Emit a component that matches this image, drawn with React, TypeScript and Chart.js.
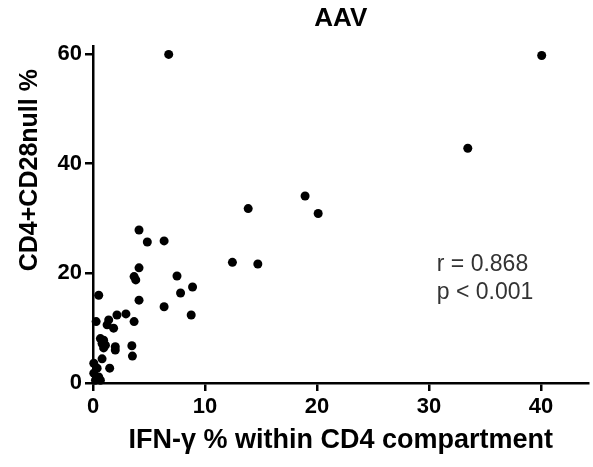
import React, { useEffect, useRef } from "react";
import { Chart, registerables } from "chart.js";

Chart.register(...registerables);

const chartTitle = "AAV";
const xAxisTitle = "IFN-γ % within CD4 compartment";
const yAxisTitle = "CD4+CD28null %";
const xTicks = [0, 10, 20, 30, 40];
const yTicks = [0, 20, 40, 60];
const statLines = ["r = 0.868", "p < 0.001"];

const xValues = [
  4.11, 4.85, 6.35, 4.11, 3.67, 3.82, 7.5, 8.89, 7.82, 4.11,
  6.35, 8.77, 0.51, 3.47, 3.52, 3.67, 2.14, 2.94, 0.28,
  1.4, 1.26, 1.84, 0.66, 0.95, 0.81, 1.11, 0.95, 1.99, 1.99,
  0.81, 1.49, 0.07, 0.37, 0.07, 0.51, 0.22, 0.66,
  6.76, 40.07, 33.47, 18.94, 20.11, 13.86, 12.45, 14.72,
];
const yValues = [
  27.9, 25.7, 25.9, 21.0, 19.4, 18.8, 19.5, 17.5, 16.4, 15.1,
  13.9, 12.4, 16.0, 6.8, 4.9, 11.2, 12.4, 12.6, 11.2,
  11.5, 10.6, 10.0, 8.1, 7.8, 7.2, 6.9, 6.4, 6.6, 6.0,
  4.4, 2.7, 3.6, 2.7, 1.8, 1.1, 0.5, 0.5,
  59.9, 59.7, 42.8, 34.1, 30.9, 31.8, 22.0, 21.7,
];

const FONT = "'Liberation Sans', Arial, sans-serif";

export default function App() {
  const canvasRef = useRef<HTMLCanvasElement | null>(null);

  useEffect(() => {
    if (!canvasRef.current) return;
    const points = xValues.map((x, i) => ({ x, y: yValues[i] }));

    const textPlugin = {
      id: "extraText",
      afterDraw(chart: any) {
        const { ctx, scales } = chart;
        ctx.save();
        // correlation statistics
        const px = scales.x.getPixelForValue(30.7);
        const py0 = scales.y.getPixelForValue(21.6);
        const py1 = scales.y.getPixelForValue(16.5);
        ctx.font = `23px ${FONT}`;
        ctx.fillStyle = "#333";
        ctx.textAlign = "left";
        ctx.textBaseline = "middle";
        ctx.fillText(statLines[0], px, py0);
        ctx.fillText(statLines[1], px, py1);
        // y axis title
        ctx.translate(30, scales.y.getPixelForValue(38.8));
        ctx.rotate(-Math.PI / 2);
        ctx.font = `bold 25px ${FONT}`;
        ctx.fillStyle = "#000";
        ctx.textAlign = "center";
        ctx.textBaseline = "middle";
        ctx.fillText(yAxisTitle, 0, 0);
        ctx.restore();
      },
    };

    const chart = new Chart(canvasRef.current, {
      type: "scatter",
      data: {
        datasets: [
          {
            data: points,
            backgroundColor: "#000",
            borderWidth: 0,
            pointRadius: 4.5,
            clip: false as any,
          },
        ],
      },
      options: {
        responsive: false,
        animation: false,
        layout: { padding: 0 },
        plugins: {
          legend: { display: false },
          tooltip: { enabled: false },
          title: {
            display: true,
            text: chartTitle,
            fullSize: false,
            color: "#000",
            font: { family: FONT, size: 26, weight: "bold" },
            padding: { top: 3, bottom: 12 },
          },
        },
        scales: {
          x: {
            type: "linear",
            min: 0,
            max: 44.25,
            afterBuildTicks: (scale: any) => {
              scale.ticks = xTicks.map((v) => ({ value: v }));
            },
            afterFit: (scale: any) => {
              scale.height = 84;
            },
            border: { display: true, color: "#000", width: 2.5 },
            grid: {
              display: true,
              drawOnChartArea: false,
              drawTicks: true,
              tickLength: 8,
              color: "#000",
              lineWidth: 2.5,
            },
            ticks: {
              color: "#000",
              padding: 3,
              maxRotation: 0,
              font: { family: FONT, size: 22, weight: "bold" },
            },
            title: {
              display: true,
              text: xAxisTitle,
              color: "#000",
              font: { family: FONT, size: 27, weight: "bold" },
              padding: { top: 0, bottom: 10 },
            },
          },
          y: {
            type: "linear",
            min: 0,
            max: 61.4,
            afterBuildTicks: (scale: any) => {
              scale.ticks = yTicks.map((v) => ({ value: v }));
            },
            afterFit: (scale: any) => {
              scale.width = 93;
            },
            border: { display: true, color: "#000", width: 2.5 },
            grid: {
              display: true,
              drawOnChartArea: false,
              drawTicks: true,
              tickLength: 8,
              color: "#000",
              lineWidth: 2.5,
            },
            ticks: {
              color: "#000",
              padding: 3,
              font: { family: FONT, size: 22, weight: "bold" },
            },
            title: { display: false },
          },
        },
      },
      plugins: [textPlugin],
    });

    return () => chart.destroy();
  }, []);

  return (
    <div style={{ position: "absolute", left: 0, top: 0, width: 593, height: 467, background: "#fff" }}>
      <canvas ref={canvasRef} width={593} height={467} />
    </div>
  );
}
